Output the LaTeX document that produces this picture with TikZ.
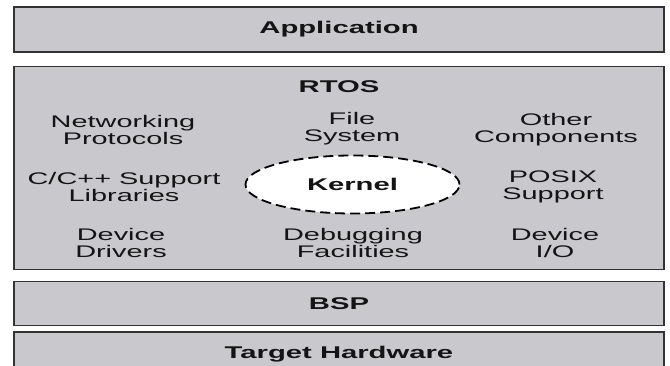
\documentclass[tikz,border=0pt]{standalone}
\usepackage{fontspec}
\setmainfont{Liberation Sans}[FakeStretch=1.72]
\usetikzlibrary{shapes.geometric}
\usetikzlibrary{positioning}
\definecolor{boxgray}{RGB}{201,201,205}
\definecolor{inkgray}{RGB}{20,20,20}
\tikzset{
  layer/.style={draw=black!80, line width=1.3pt, fill=boxgray,
    minimum width=650pt, inner sep=0pt, text=inkgray,
    font=\fontsize{17}{18}\selectfont\bfseries},
  part/.style={align=center, inner sep=1pt, text=inkgray,
    font=\fontsize{16.8}{16.8}\selectfont},
}
\begin{document}
\begin{tikzpicture}[x=1pt,y=1pt,node distance=12pt]
      \useasboundingbox (0,0) rectangle (670,365);
      \clip (0,0) rectangle (670,365);

      \node[layer, minimum height=45pt] (app) at (339,335.5) {Application};
      \node[layer, minimum height=203pt, below=13pt of app] (rtos) {};
      \node[layer, minimum height=44pt, below=11pt of rtos] (bsp) {BSP};
      \node[layer, minimum height=44pt, below=5pt of bsp] (hw) {\raisebox{-5pt}{Target Hardware}};

      % title of the rtos layer
      \node[part, font=\fontsize{17}{18}\selectfont\bfseries] (rtostitle) at (339,278) {RTOS};

      % kernel in the middle
      \node[ellipse, draw=black, dash pattern=on 10pt off 5pt,
        line width=1.8pt, fill=white, minimum width=214pt, minimum height=58pt,
        inner sep=0pt, text=inkgray, font=\fontsize{17}{18}\selectfont\bfseries]
        (kernel) at (352.5,180.5) {Kernel};

      \node[part] (net) at (123,235) {Networking\\Protocols};
      \node[part] (fs) at (352,236) {File\\System};
      \node[part] (other) at (556,235) {Other\\Components};

      \node[part] (libs) at (124,178) {C/C++ Support\\Libraries};
      \node[part] (posix) at (553,178) {POSIX\\Support};

      \node[part] (drv) at (121,122) {Device\\Drivers};
      \node[part] (dbg) at (353,122) {Debugging\\Facilities};
      \node[part] (dio) at (555,122) {Device\\I/O};
    \end{tikzpicture}
\end{document}
